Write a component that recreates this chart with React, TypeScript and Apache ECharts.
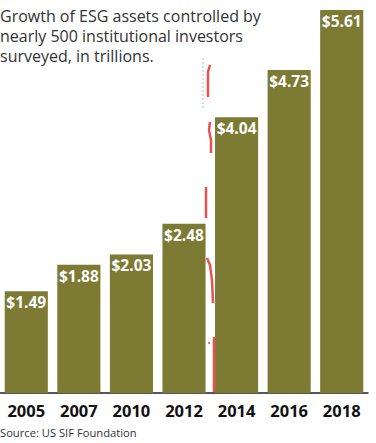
import React, { useEffect, useRef } from "react";
import * as echarts from "echarts";

const years = ["2005", "2007", "2010", "2012", "2014", "2016", "2018"];
const assets = [1.49, 1.88, 2.03, 2.48, 4.04, 4.73, 5.61];
const titleText = "Growth of ESG assets controlled by\nnearly 500 institutional investors\nsurveyed, in trillions.";
const sourceText = "Source: US SIF Foundation";

const FONT = "'Open Sans', 'Noto Sans', sans-serif";
const RED = "#e8524f";

export default function App() {
  const ref = useRef<HTMLDivElement>(null);
  useEffect(() => {
    document.body.style.margin = "0";
    if (!ref.current) return;
    const chart = echarts.init(ref.current, undefined, { renderer: "svg" });
    const seg = (pts: number[][]) => ({
      type: "polyline",
      shape: { points: pts },
      style: { stroke: RED, lineWidth: 2.5, fill: null },
      z: 100,
    });
    chart.setOption({
      animation: false,
      backgroundColor: "#ffffff",
      title: {
        text: titleText,
        left: 0,
        top: 6,
        padding: 0,
        textStyle: {
          fontFamily: FONT,
          fontSize: 16,
          fontWeight: "normal",
          color: "#333333",
          lineHeight: 20,
        },
      },
      grid: { left: 0, right: 8, top: 10, bottom: 50, containLabel: false },
      xAxis: {
        type: "category",
        data: years,
        axisLine: { show: true, lineStyle: { color: "#222222", width: 1.5 } },
        axisTick: { show: false },
        axisLabel: {
          fontFamily: FONT,
          fontSize: 16.5,
          fontWeight: "bold",
          color: "#111111",
          margin: 9,
        },
      },
      yAxis: {
        type: "value",
        min: 0,
        max: 5.61,
        show: false,
        splitLine: { show: false },
      },
      series: [
        {
          type: "bar",
          data: assets,
          barCategoryGap: "18%",
          itemStyle: { color: "#7d7a34" },
          label: {
            show: true,
            position: "insideTop",
            distance: 3,
            formatter: (p: any) => "$" + p.value.toFixed(2),
            fontFamily: FONT,
            fontSize: 15.5,
            fontWeight: "bold",
            color: "#ffffff",
          },
        },
      ],
      graphic: [
        {
          type: "text",
          left: 0,
          top: 427,
          style: {
            text: sourceText,
            fontFamily: FONT,
            fontSize: 11.2,
            fill: "#333333",
          },
        },
        {
          type: "line",
          shape: { x1: 203, y1: 58, x2: 203, y2: 108 },
          style: { stroke: "#bbbbbb", lineWidth: 1, lineDash: [2, 2] },
        },
        seg([[210, 65], [208, 72], [208, 97]]),
        seg([[210, 122], [209, 130], [211, 140], [211, 153]]),
        seg([[206, 187], [206, 218]]),
        seg([[207, 258], [210, 265], [212, 280], [213, 303]]),
        seg([[214, 337], [214, 392]]),
        {
          type: "circle",
          shape: { cx: 209, cy: 343, r: 1 },
          style: { fill: RED },
          z: 100,
        },
      ],
    });
    return () => chart.dispose();
  }, []);
  return <div ref={ref} style={{ width: 376, height: 443 }} />;
}
